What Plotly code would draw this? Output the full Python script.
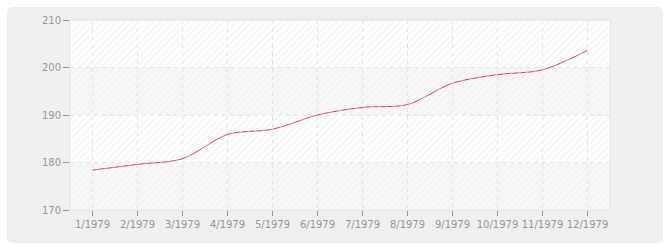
import plotly.graph_objects as go

months = ["1/1979", "2/1979", "3/1979", "4/1979", "5/1979", "6/1979",
          "7/1979", "8/1979", "9/1979", "10/1979", "11/1979", "12/1979"]
values = [178.4, 179.6, 180.8, 185.9, 187.0, 190.0,
          191.6, 192.2, 196.7, 198.5, 199.5, 203.6]
y_ticks = [170, 180, 190, 200, 210]
bands = [(170, 180), (190, 200)]

W, H = 670, 250
L, R, T, B = 70, 60, 20, 40
pw, ph = W - L - R, H - T - B

def px_to_paper_x(px):
    return (px - L) / pw

def px_to_paper_y(py):
    return (H - B - py) / ph

# rounded background rectangle (pixel bounds)
x0, x1, y0, y1, rad = 7, 663, 7, 243, 6
def P(x, y):
    return f"{px_to_paper_x(x):.5f},{px_to_paper_y(y):.5f}"
path = (f"M {P(x0+rad, y0)} L {P(x1-rad, y0)} Q {P(x1, y0)} {P(x1, y0+rad)} "
        f"L {P(x1, y1-rad)} Q {P(x1, y1)} {P(x1-rad, y1)} "
        f"L {P(x0+rad, y1)} Q {P(x0, y1)} {P(x0, y1-rad)} "
        f"L {P(x0, y0+rad)} Q {P(x0, y0)} {P(x0+rad, y0)} Z")

fig = go.Figure()

# hatched background on overlay axes
fig.add_trace(go.Bar(
    x=[0.5], y=[1], width=[1], xaxis="x2", yaxis="y2",
    marker=dict(color="rgba(0,0,0,0)", line=dict(width=0),
                pattern=dict(shape="/", fgcolor="#ededed", bgcolor="rgba(0,0,0,0)",
                             size=5, solidity=0.35)),
    hoverinfo="skip", showlegend=False,
))

fig.add_trace(go.Scatter(
    x=months, y=values, mode="lines",
    line=dict(color="#dc3248", width=1, shape="spline", smoothing=0.9),
    showlegend=False,
))

shapes = [dict(type="path", path=path, xref="paper", yref="paper",
               fillcolor="#efefef", line=dict(width=0), layer="below"),
          dict(type="rect", xref="paper", yref="paper", x0=0, x1=1, y0=0, y1=1,
               fillcolor="white", line=dict(width=0), layer="below")]
for a, b in bands:
    shapes.append(dict(type="rect", xref="paper", yref="y", x0=0, x1=1, y0=a, y1=b,
                       fillcolor="#f8f8f8", line=dict(width=0), layer="below"))
shapes.append(dict(type="rect", xref="paper", yref="paper", x0=0, x1=1, y0=0, y1=1,
                   fillcolor="rgba(0,0,0,0)", line=dict(color="#e2e2e2", width=1),
                   layer="above"))

fig.update_layout(
    width=W, height=H,
    margin=dict(l=L, r=R, t=T, b=B),
    paper_bgcolor="white",
    plot_bgcolor="rgba(0,0,0,0)",
    font=dict(family="DejaVu Sans", size=10, color="#999999"),
    shapes=shapes,
    xaxis=dict(type="category", range=[-0.5, 11.5], showgrid=True,
               gridcolor="#e2e2e2", griddash="4px,4px", gridwidth=1,
               ticks="outside", ticklen=5, tickcolor="#999999",
               showline=False, zeroline=False, tickfont=dict(size=10, color="#999999")),
    yaxis=dict(range=[170, 210], tickvals=y_ticks, showgrid=True,
               gridcolor="#e2e2e2", griddash="4px,4px", gridwidth=1,
               ticks="outside", ticklen=6, tickcolor="#999999",
               showline=False, zeroline=False, tickfont=dict(size=10, color="#999999")),
    xaxis2=dict(range=[0, 1], overlaying="x", visible=False, fixedrange=True),
    yaxis2=dict(range=[0, 1], overlaying="y", visible=False, fixedrange=True),
    bargap=0,
)

fig.write_html("out.html")
